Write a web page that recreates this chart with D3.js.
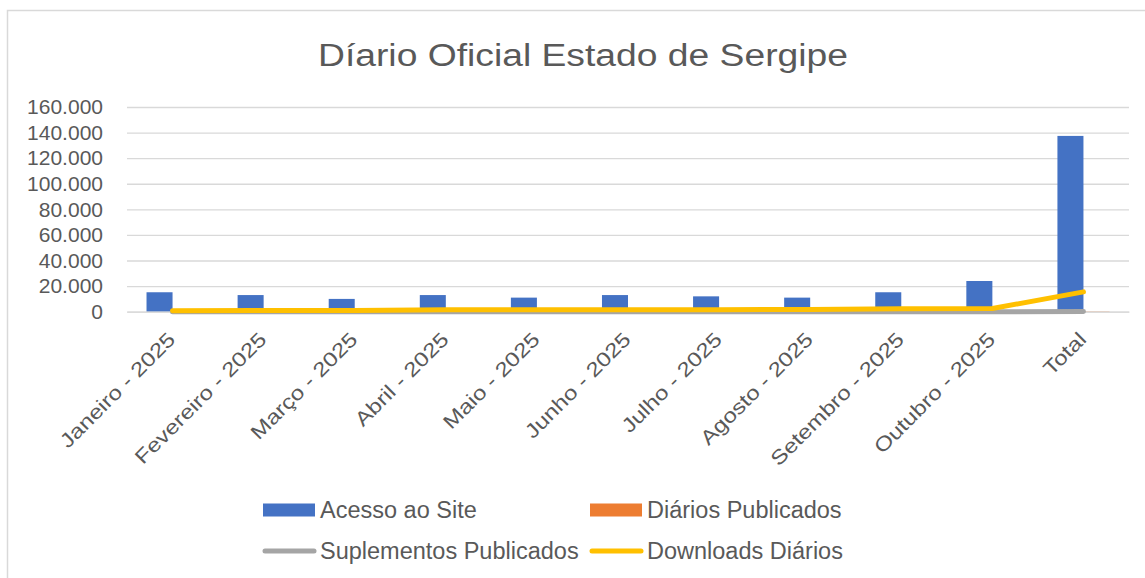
<!DOCTYPE html>
<html>
<head>
<meta charset="utf-8">
<script src="https://cdn.jsdelivr.net/npm/d3@7"></script>
<style>
  body { margin: 0; background: #fff; }
  svg { display: block; font-family: 'Liberation Sans', Arial, sans-serif; }
  .tick-label { fill: #595959; font-size: 21px; }
  .cat-label { fill: #595959; font-size: 20px; }
  .legend-label { fill: #595959; font-size: 23.5px; }
</style>
</head>
<body>
<svg id="chart"></svg>
<script>
// chart data
const categories = [
  'Janeiro - 2025', 'Fevereiro - 2025', 'Março - 2025', 'Abril - 2025',
  'Maio - 2025', 'Junho - 2025', 'Julho - 2025', 'Agosto - 2025',
  'Setembro - 2025', 'Outubro - 2025', 'Total'
];
const acessoSite = [15200, 13000, 10000, 13000, 11000, 13000, 12000, 11000, 15200, 24000, 137400];
const diariosPublicados = [22, 20, 21, 22, 21, 21, 23, 21, 22, 23, 216];
const suplementosPublicados = [10, 9, 11, 10, 12, 10, 11, 10, 9, 11, 103];
const downloadsDiarios = [800, 900, 1000, 1500, 1500, 1600, 1600, 1800, 2300, 2500, 15500];
const yTicks = [0, 20000, 40000, 60000, 80000, 100000, 120000, 140000, 160000];

const colors = {
  'Acesso ao Site': '#4472c4',
  'Diários Publicados': '#ed7d31',
  'Suplementos Publicados': '#a5a5a5',
  'Downloads Diários': '#ffc000'
};

const width = 1145, height = 578;
const plot = { left: 127, right: 1129, top: 107, bottom: 311.7 };

const svg = d3.select('#chart').attr('width', width).attr('height', height);

// chart area border (runs past the right and bottom of the picture)
svg.append('rect')
  .attr('x', 7.5).attr('y', 10.5)
  .attr('width', 1200).attr('height', 700)
  .attr('fill', '#fff')
  .attr('stroke', '#d9d9d9').attr('stroke-width', 1.5);

// title (the original is drawn a bit wide)
svg.append('text')
  .attr('x', 583).attr('y', 66)
  .attr('text-anchor', 'middle')
  .attr('fill', '#595959')
  .attr('textLength', 530)
  .attr('lengthAdjust', 'spacingAndGlyphs')
  .style('font-size', '31px')
  .text('Díario Oficial Estado de Sergipe');

// scales
const xScale = d3.scaleBand().domain(categories).range([plot.left, plot.right]);
const xInner = d3.scaleBand()
  .domain(['Acesso ao Site', 'Diários Publicados'])
  .range([0, xScale.bandwidth()])
  .paddingOuter(0.75);
const yScale = d3.scaleLinear().domain([0, 160000]).range([plot.bottom, plot.top]);

const ptBR = d3.formatLocale({ decimal: ',', thousands: '.', grouping: [3], currency: ['R$', ''] });
const fmt = ptBR.format(',d');

// gridlines + y labels
const yAxis = d3.axisLeft(yScale)
  .tickValues(yTicks)
  .tickFormat(fmt)
  .tickSize(-(plot.right - plot.left))
  .tickPadding(24);

const yAxisG = svg.append('g')
  .attr('transform', `translate(${plot.left},0)`)
  .call(yAxis);
yAxisG.select('.domain').remove();
yAxisG.selectAll('.tick line').attr('stroke', '#d9d9d9').attr('stroke-width', 1.3);
yAxisG.selectAll('.tick text').attr('class', 'tick-label').attr('fill', '#595959');

// bars
const barSeries = [
  { name: 'Acesso ao Site', values: acessoSite },
  { name: 'Diários Publicados', values: diariosPublicados }
];
barSeries.forEach((s) => {
  svg.append('g')
    .selectAll('rect')
    .data(s.values)
    .join('rect')
    .attr('x', (d, i) => xScale(categories[i]) + xInner(s.name))
    .attr('y', (d) => yScale(d))
    .attr('width', xInner.bandwidth())
    .attr('height', (d) => yScale(0) - yScale(d))
    .attr('fill', colors[s.name]);
});

// x axis line
const xAxis = d3.axisBottom(xScale).tickSize(0).tickFormat('');
const xAxisG = svg.append('g')
  .attr('transform', `translate(0,${plot.bottom})`)
  .call(xAxis);
xAxisG.select('.domain').attr('stroke', '#d9d9d9').attr('stroke-width', 1.3);

// lines
const lineSeries = [
  { name: 'Suplementos Publicados', values: suplementosPublicados },
  { name: 'Downloads Diários', values: downloadsDiarios }
];
const line = d3.line()
  .x((d, i) => xScale(categories[i]) + xScale.bandwidth() / 2)
  .y((d) => yScale(d));
lineSeries.forEach((s) => {
  svg.append('path')
    .datum(s.values)
    .attr('d', line)
    .attr('fill', 'none')
    .attr('stroke', colors[s.name])
    .attr('stroke-width', 5)
    .attr('stroke-linecap', 'round')
    .attr('stroke-linejoin', 'round');
});

// rotated category labels, stretched along the baseline like the original
svg.append('g')
  .selectAll('text')
  .data(categories)
  .join('text')
  .attr('class', 'cat-label')
  .attr('text-anchor', 'end')
  .attr('transform', (d) => `translate(${xScale(d) + xScale.bandwidth() / 2 + 4},${plot.bottom + 29}) rotate(-45)`)
  .text((d) => d)
  .each(function () {
    const len = this.getComputedTextLength();
    d3.select(this).attr('textLength', len * 1.2).attr('lengthAdjust', 'spacingAndGlyphs');
  });

// legend
const legendItems = [
  { name: 'Acesso ao Site', type: 'rect', x: 263, y: 510 },
  { name: 'Diários Publicados', type: 'rect', x: 590, y: 510 },
  { name: 'Suplementos Publicados', type: 'line', x: 263, y: 551 },
  { name: 'Downloads Diários', type: 'line', x: 590, y: 551 }
];
const legend = svg.append('g');
legendItems.forEach((it) => {
  if (it.type === 'rect') {
    legend.append('rect')
      .attr('x', it.x).attr('y', it.y - 6.5)
      .attr('width', 52).attr('height', 13)
      .attr('fill', colors[it.name]);
  } else {
    legend.append('line')
      .attr('x1', it.x + 2).attr('x2', it.x + 51)
      .attr('y1', it.y).attr('y2', it.y)
      .attr('stroke', colors[it.name])
      .attr('stroke-width', 5)
      .attr('stroke-linecap', 'round');
  }
  legend.append('text')
    .attr('class', 'legend-label')
    .attr('x', it.x + 57)
    .attr('y', it.y)
    .attr('dy', '0.35em')
    .text(it.name);
});
</script>
</body>
</html>
